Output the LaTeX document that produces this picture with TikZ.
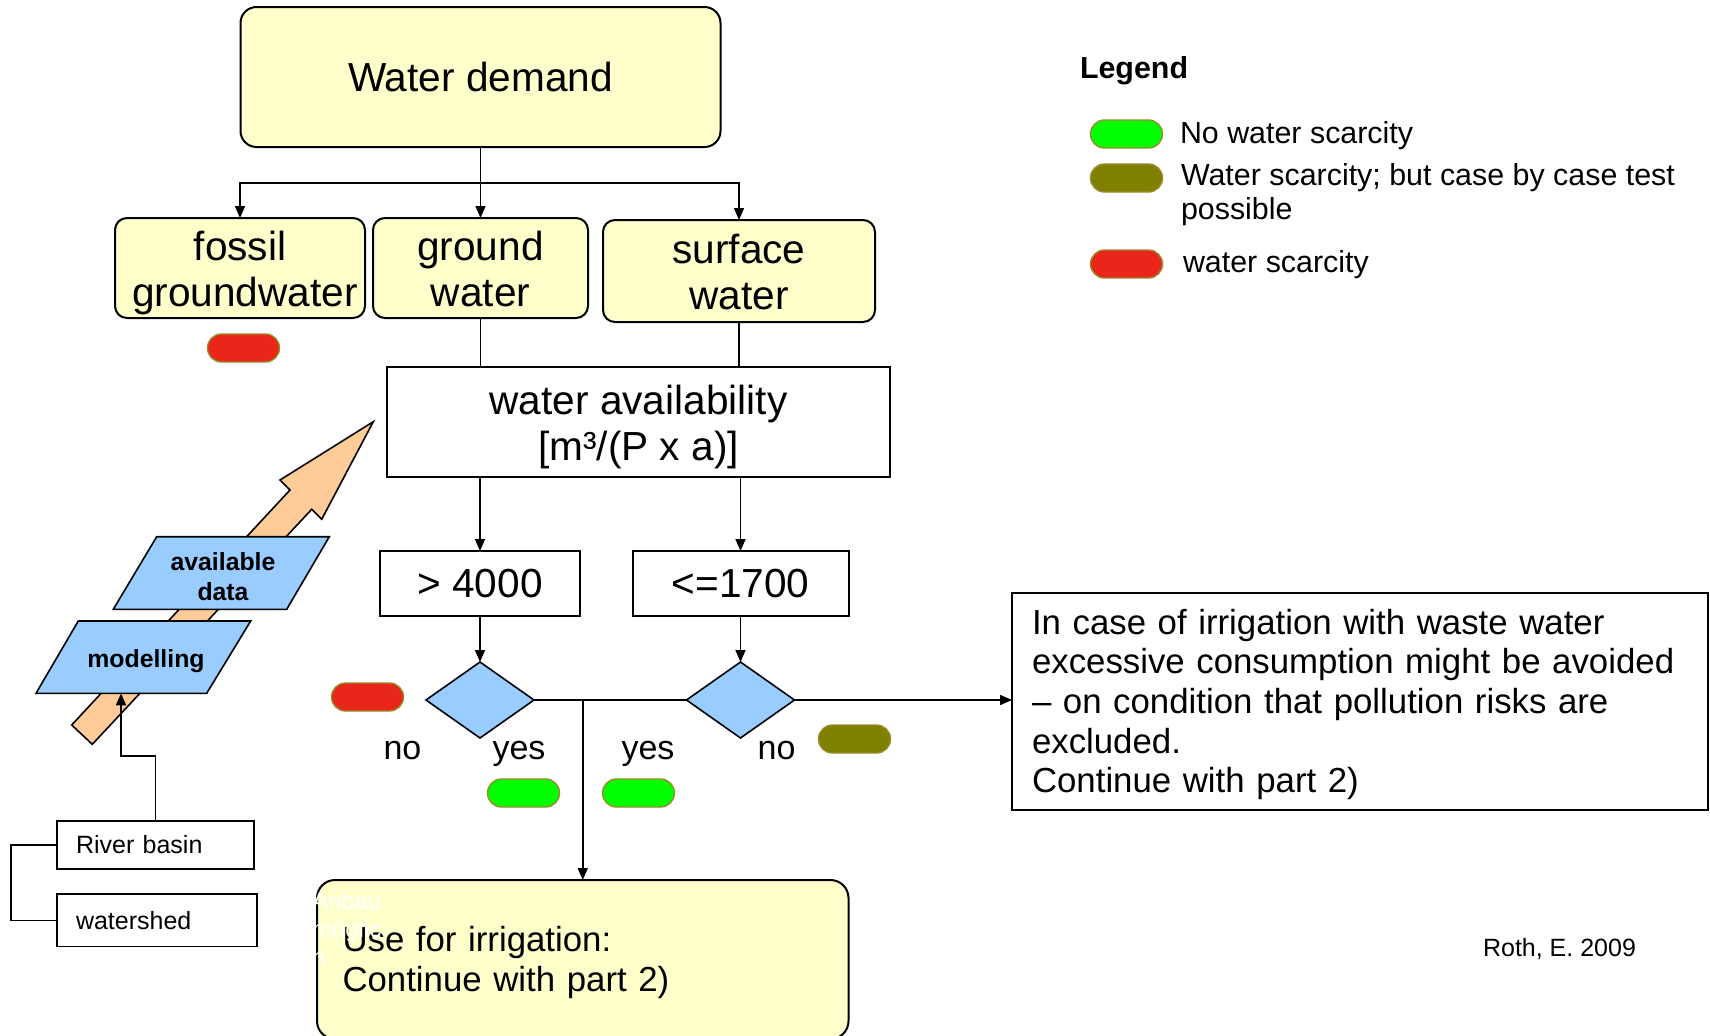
\documentclass[tikz,border=0pt]{standalone}
\usepackage{fontspec}
\setmainfont{Liberation Sans}
\usetikzlibrary{shapes.geometric,arrows.meta}
\definecolor{yel}{HTML}{FFFFCC}
\definecolor{lblue}{HTML}{99CCFF}
\definecolor{peach}{HTML}{FFCC99}
\definecolor{pred}{HTML}{E8261A}
\definecolor{pgreen}{HTML}{00FF00}
\definecolor{polive}{HTML}{808000}
\definecolor{pillb}{HTML}{9A8B2B}
\newcommand{\mytopstrut}{\rule{0pt}{0.9em}}
\newcommand{\bigtopstrut}{\rule{0pt}{0.98em}}
\newcommand{\mybotstrut}{\rule[-0.21em]{0pt}{0.21em}}
\begin{document}
\begin{tikzpicture}[x=0.5pt,y=-0.5pt,
  every node/.style={inner sep=0pt, outer sep=0pt},
  ybox/.style={draw, line width=1pt, fill=yel, rounded corners=6pt, align=center, font=\fontsize{20.3}{23.1}\selectfont},
  wbox/.style={draw, line width=1pt, fill=white, align=center, font=\fontsize{20.3}{23.1}\selectfont},
  conn/.style={line width=0.8pt},
  arr/.style={conn, -{Triangle[length=6pt,width=5pt]}},
  pill/.style={draw=pillb, line width=0.7pt, minimum width=36pt, minimum height=14pt, rounded corners=7pt},
  dia/.style={diamond, draw, line width=0.8pt, fill=lblue, minimum width=54pt, minimum height=38pt},
  lbl/.style={font=\fontsize{17}{20}\selectfont, anchor=base},
  legtxt/.style={font=\fontsize{15.2}{17}\selectfont, align=left},
  para/.style={draw, line width=0.8pt, fill=lblue},
  ptxt/.style={font=\bfseries\fontsize{12.4}{14.75}\selectfont, align=center},
  smallbox/.style={draw, line width=0.8pt, align=left, font=\fontsize{12.5}{15}\selectfont}
]
\path[use as bounding box] (0,0) rectangle (1710,1035);
\clip (0,0) rectangle (1710,1035);

% big orange arrow
\draw[line width=0.8pt, fill=peach] (71.7,725) -- (290,490) -- (280,480) -- (373.3,421.7)
  -- (321.7,519.3) -- (311.7,509.3) -- (92.3,744.3) -- cycle;

% parallelograms
\draw[para] (156.7,536.7) -- (329.3,536.7) -- (286.7,609.3) -- (113.3,609.3) -- cycle;
\node[ptxt] (avd) at (223,577) {\mytopstrut available\\data\mybotstrut};
\draw[para] (78.3,621) -- (250.7,621) -- (206.7,693.3) -- (36,693.3) -- cycle;
\node[ptxt] (mod) at (146,661) {modelling};
\coordinate (modbot) at (121,693.3);

% main boxes
\node[ybox, rounded corners=8pt, minimum width=240pt, minimum height=70pt] (wd) at (480.5,77) {Water demand};
\node[ybox, minimum width=125pt, minimum height=50pt] (fossil) at (240,268) {\bigtopstrut fossil\\\hspace*{5pt}groundwater\mybotstrut};
\node[ybox, minimum width=107.5pt, minimum height=50pt] (ground) at (480.5,268) {\bigtopstrut ground\\water\mybotstrut};
\node[ybox, minimum width=136pt, minimum height=51pt] (surface) at (739,271) {\bigtopstrut surface\\water\mybotstrut};
\node[wbox, minimum width=251.5pt, minimum height=55pt] (wa) at (638.5,421.5) {\bigtopstrut water availability\\{}[m³/(P x a)]\mybotstrut};
\node[wbox, minimum width=100pt, minimum height=32.5pt] (g4000) at (480,583.5) {> 4000};
\node[wbox, minimum width=108pt, minimum height=32.5pt] (le1700) at (740.5,583.5) {<=1700};
\node[dia] (d1) at (480,700) {};
\node[dia] (d2) at (740.5,700) {};
\node[wbox, minimum width=348pt, minimum height=108.5pt, text width=328pt, align=left,
  font=\fontsize{17.4}{19.8}\selectfont] (tb) at (1360,701.5)
  {\mytopstrut In case of irrigation with waste water\\excessive consumption might be avoided\\– on condition that pollution risks are\\excluded.\\Continue with part 2)\mybotstrut};
\node[ybox, rounded corners=9pt, minimum width=265.75pt, minimum height=79.5pt, text width=240.25pt,
  align=left, font=\fontsize{17.4}{19.6}\selectfont] (use) at (582.75,959.5)
  {\mytopstrut Use for irrigation:\\Continue with part 2)\mybotstrut};
\node[anchor=west, align=left, text=white, font=\fontsize{12}{14}\selectfont] (anb) at (312,929) {Anbau\\möglic\\h};

% river basin / watershed
\node[smallbox, minimum width=98.65pt, minimum height=24pt, text width=79.35pt] (rb) at (155.35,845) {River basin};
\node[smallbox, minimum width=100.15pt, minimum height=26.3pt, text width=80.85pt] (ws) at (156.85,920.3) {watershed};

% connectors
\coordinate (j) at (480.5,183);
\draw[conn] (wd.south) -- (j);
\draw[arr] (j) -| (fossil.north);
\draw[arr] (j) -- (ground.north);
\draw[arr] (j) -| (surface.north);
\draw[conn] (ground.south) -- (ground.south |- wa.north);
\draw[conn] (surface.south) -- (surface.south |- wa.north);
\draw[arr] (wa.south -| g4000.north) -- (g4000.north);
\draw[arr] (wa.south -| le1700.north) -- (le1700.north);
\draw[arr] (g4000.south) -- (d1.north);
\draw[arr] (le1700.south) -- (d2.north);
\draw[conn] (d1.east) -- (d2.west);
\draw[arr] (d1.east -| use.north) -- (use.north);
\draw[arr] (d2.east) -- (d2.east -| tb.west);
\draw[arr] (rb.north) -- ++(0,-65) -| (modbot);
\draw[conn] (rb.west) -- ++(-45.7,0) |- (ws.west);

% labels
\node[lbl] (no1) at (402.5,759) {no};
\node[lbl] (yes1) at (519,759) {yes};
\node[lbl] (yes2) at (648,759) {yes};
\node[lbl] (no2) at (776.5,759) {no};

% pills
\node[pill, fill=pred] (pf) at (243.5,348) {};
\node[pill, fill=pred] (pn1) at (367.5,697) {};
\node[pill, fill=pgreen] (py1) at (523.5,793) {};
\node[pill, fill=pgreen] (py2) at (638.5,793) {};
\node[pill, fill=polive] (pn2) at (854.5,739) {};

% legend
\node[anchor=base west, font=\bfseries\fontsize{15.2}{17}\selectfont] (legt) at (1080,78) {Legend};
\node[pill, fill=pgreen] (lg) at (1126.5,134) {};
\node[pill, fill=polive] (lo) at (1126.5,178) {};
\node[pill, fill=pred] (lr) at (1126.5,264) {};
\node[legtxt, anchor=base west] (lgt) at (1180,143) {No water scarcity};
\node[legtxt, anchor=west] (lot) at (1181,192.5) {\mytopstrut Water scarcity; but case by case test\\possible\mybotstrut};
\node[legtxt, anchor=base west] (lrt) at (1183,272.5) {water scarcity};

\node[font=\fontsize{12.5}{15}\selectfont] (roth) at (1559.5,949) {Roth, E. 2009};
\end{tikzpicture}
\end{document}
